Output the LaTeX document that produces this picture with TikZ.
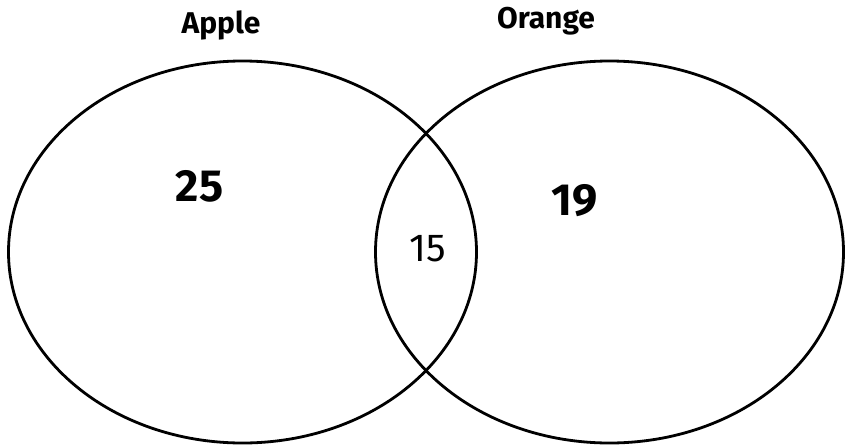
\documentclass[tikz,border=0pt]{standalone}
\usepackage{fontspec}
\setmainfont{Fira Sans}
\usetikzlibrary{shapes.geometric}
\begin{document}
\begin{tikzpicture}[x=1pt,y=-1pt,
  setcircle/.style={draw=black, line width=2.8pt, ellipse, inner sep=0pt,
    minimum width=468pt, minimum height=382pt},
  title/.style={font=\fontsize{30}{30}\selectfont\bfseries, anchor=base, inner sep=0pt},
  bignum/.style={font=\fontsize{45}{45}\selectfont\bfseries, inner sep=0pt},
  smallnum/.style={font=\fontsize{39}{39}\selectfont, inner sep=0pt}]
\useasboundingbox[fill=white] (0,0) rectangle (845,447);
\node[setcircle] (apple) at (242.5,252) {};
\node[setcircle] (orange) at (609.5,252) {};
\node[title] (appleT) at (221,33) {Apple};
\node[title] (orangeT) at (546,28) {Orange};
\node[bignum] (n25) at (199.5,186) {25};
\node[bignum] (n19) at (575,201) {19};
\node[smallnum] (n15) at (427.5,248.5) {15};
\end{tikzpicture}
\end{document}
